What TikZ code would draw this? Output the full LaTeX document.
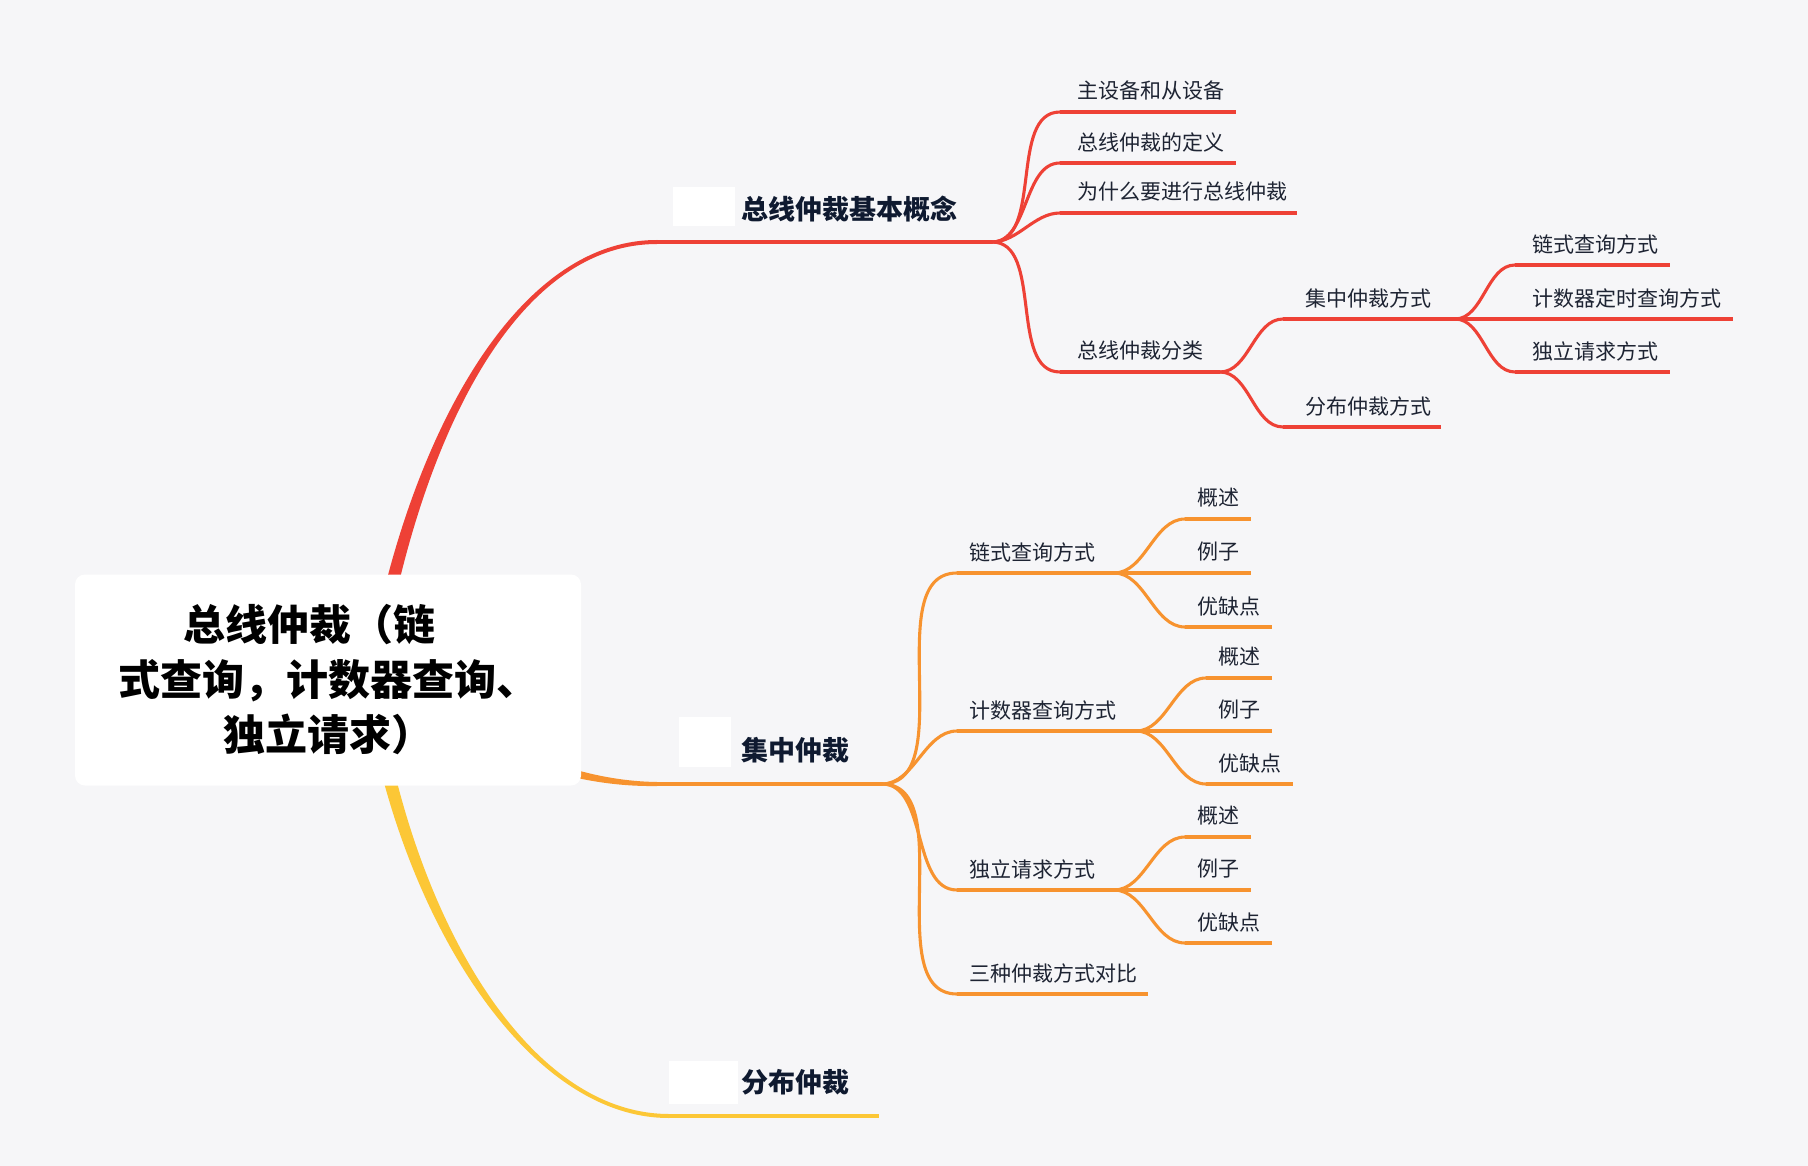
\documentclass[tikz,border=0pt]{standalone}
\usepackage{fontspec}
\setmainfont{Noto Sans CJK SC}
\usetikzlibrary{calc}
\definecolor{bgc}{HTML}{F6F6F8}
\definecolor{redc}{HTML}{EE4136}
\definecolor{orgc}{HTML}{F7932F}
\definecolor{ylwc}{HTML}{FCC736}
\definecolor{txtc}{HTML}{1E2433}
\definecolor{hdc}{HTML}{0F1A30}
\tikzset{
  lbl/.style={anchor=west, inner sep=0pt, text=txtc, font=\fontsize{21}{25}\selectfont},
  hd/.style={anchor=west, inner sep=0pt, text=hdc, font=\bfseries\fontsize{27}{32}\selectfont},
  rootbox/.style={fill=white, rounded corners=10pt, minimum width=506pt, minimum height=211pt,
    align=center, inner sep=0pt, font=\bfseries\fontsize{42}{55}\selectfont},
  br/.style={out=0, in=180, looseness=0.9},
  lred/.style={draw=redc, line width=3.1pt},
  lorg/.style={draw=orgc, line width=3.1pt},
  mainln/.style={line width=4pt},
  icon/.style={fill=white}
}
\begin{document}
\begin{tikzpicture}[x=1pt,y=-1pt]
\fill[bgc] (0,0) rectangle (1808,1166);
\useasboundingbox (0,0) rectangle (1808,1166);
\coordinate (rc) at (328,680);
\coordinate (b1s) at (657,242);
\coordinate (b1e) at (992,242);
\coordinate (b2s) at (657,784);
\coordinate (b2e) at (882,784);
\coordinate (b3s) at (669,1116);
\coordinate (b3e) at (879,1116);
% trunks
\fill[redc] ($(rc)+(35,20)$) .. controls ($(rc)+(65,-200)$) and ($(b1s)+(-157,-2.2)$) .. ($(b1s)+(0,-2)$)
  -- ($(b1s)+(0,2)$) .. controls ($(b1s)+(-157,2.2)$) and ($(rc)+(79,-200)$) .. ($(rc)+(49,20)$) -- cycle;
\fill[orgc] ($(rc)+(52,1)$) .. controls ($(rc)+(152,52)$) and ($(b2s)+(-97,-3.5)$) .. ($(b2s)+(0,-2)$)
  -- ($(b2s)+(0,2)$) .. controls ($(b2s)+(-97,3.5)$) and ($(rc)+(152,68)$) .. ($(rc)+(52,19)$) -- cycle;
\fill[ylwc] ($(rc)+(35,0)$) .. controls ($(rc)+(65,220)$) and ($(b3s)+(-149,2.2)$) .. ($(b3s)+(0,2)$)
  -- ($(b3s)+(0,-2)$) .. controls ($(b3s)+(-149,-2.2)$) and ($(rc)+(79,220)$) .. ($(rc)+(49,0)$) -- cycle;
\draw[redc, mainln] (b1s) -- (b1e);
\draw[orgc, mainln] (b2s) -- (b2e);
\draw[ylwc, mainln] (b3s) -- (b3e);
\node[rootbox] (root) at (rc) {总线仲裁（链\hspace*{37pt}\\式查询，计数器查询、\\独立请求）};
\fill[icon] (673,187) rectangle (735,226);
\fill[icon] (679,717) rectangle (731,767);
\fill[icon] (669,1061) rectangle (738,1104);
\node[hd] (h1) at (741,209) {总线仲裁基本概念};
\node[hd] (h2) at (741,750) {集中仲裁};
\node[hd] (h3) at (741,1082) {分布仲裁};
% red part
\draw[lred] (1060,112) coordinate (a1s) -- (1236,112) coordinate (a1e);
\draw[lred] (1060,163) coordinate (a2s) -- (1236,163) coordinate (a2e);
\draw[lred] (1060,213) coordinate (a3s) -- (1297,213) coordinate (a3e);
\draw[lred] (1060,372) coordinate (a4s) -- (1220,372) coordinate (a4e);
\draw[lred] (1283,319) coordinate (a41s) -- (1455,319) coordinate (a41e);
\draw[lred] (1283,427) coordinate (a42s) -- (1441,427) coordinate (a42e);
\draw[lred] (1515,265) coordinate (a411s) -- (1670,265) coordinate (a411e);
\draw[lred] (1515,319) coordinate (a412s) -- (1733,319) coordinate (a412e);
\draw[lred] (1515,372) coordinate (a413s) -- (1670,372) coordinate (a413e);
\node[lbl] (a1) at (1077,91) {主设备和从设备};
\node[lbl] (a2) at (1077,142) {总线仲裁的定义};
\node[lbl] (a3) at (1077,192) {为什么要进行总线仲裁};
\node[lbl] (a4) at (1077,351) {总线仲裁分类};
\node[lbl] (a41) at (1305,298) {集中仲裁方式};
\node[lbl] (a42) at (1305,406) {分布仲裁方式};
\node[lbl] (a411) at (1532,244) {链式查询方式};
\node[lbl] (a412) at (1532,298) {计数器定时查询方式};
\node[lbl] (a413) at (1532,351) {独立请求方式};
\draw[lred] (b1e) to[br] (a1s);
\draw[lred] (b1e) to[br] (a2s);
\draw[lred] (b1e) to[br] (a3s);
\draw[lred] (b1e) to[br] (a4s);
\draw[lred] (a4e) to[br] (a41s);
\draw[lred] (a4e) to[br] (a42s);
\draw[lred] (a41e) to[br] (a411s);
\draw[lred] (a41e) to[br] (a412s);
\draw[lred] (a41e) to[br] (a413s);
% orange part
\draw[lorg] (957,573) coordinate (c1s) -- (1114,573) coordinate (c1e);
\draw[lorg] (957,731) coordinate (c2s) -- (1136,731) coordinate (c2e);
\draw[lorg] (957,890) coordinate (c3s) -- (1114,890) coordinate (c3e);
\draw[lorg] (957,994) coordinate (c4s) -- (1148,994) coordinate (c4e);
\draw[lorg] (1185,519) coordinate (c11s) -- (1251,519) coordinate (c11e);
\draw[lorg] (1185,573) coordinate (c12s) -- (1251,573) coordinate (c12e);
\draw[lorg] (1185,627) coordinate (c13s) -- (1272,627) coordinate (c13e);
\draw[lorg] (1206,678) coordinate (c21s) -- (1272,678) coordinate (c21e);
\draw[lorg] (1206,731) coordinate (c22s) -- (1272,731) coordinate (c22e);
\draw[lorg] (1206,784) coordinate (c23s) -- (1293,784) coordinate (c23e);
\draw[lorg] (1185,837) coordinate (c31s) -- (1251,837) coordinate (c31e);
\draw[lorg] (1185,890) coordinate (c32s) -- (1251,890) coordinate (c32e);
\draw[lorg] (1185,943) coordinate (c33s) -- (1272,943) coordinate (c33e);
\node[lbl] (c1) at (969,552) {链式查询方式};
\node[lbl] (c2) at (969,710) {计数器查询方式};
\node[lbl] (c3) at (969,869) {独立请求方式};
\node[lbl] (c4) at (969,973) {三种仲裁方式对比};
\node[lbl] (c11) at (1197,498) {概述};
\node[lbl] (c12) at (1197,552) {例子};
\node[lbl] (c13) at (1197,606) {优缺点};
\node[lbl] (c21) at (1218,657) {概述};
\node[lbl] (c22) at (1218,710) {例子};
\node[lbl] (c23) at (1218,763) {优缺点};
\node[lbl] (c31) at (1197,816) {概述};
\node[lbl] (c32) at (1197,869) {例子};
\node[lbl] (c33) at (1197,922) {优缺点};
\draw[lorg] (b2e) to[br] (c1s);
\draw[lorg] (b2e) to[br] (c2s);
\draw[lorg] (b2e) to[br] (c3s);
\draw[lorg] (b2e) to[br] (c4s);
\draw[lorg] (c1e) to[br] (c11s);
\draw[lorg] (c1e) to[br] (c12s);
\draw[lorg] (c1e) to[br] (c13s);
\draw[lorg] (c2e) to[br] (c21s);
\draw[lorg] (c2e) to[br] (c22s);
\draw[lorg] (c2e) to[br] (c23s);
\draw[lorg] (c3e) to[br] (c31s);
\draw[lorg] (c3e) to[br] (c32s);
\draw[lorg] (c3e) to[br] (c33s);
\end{tikzpicture}
\end{document}
